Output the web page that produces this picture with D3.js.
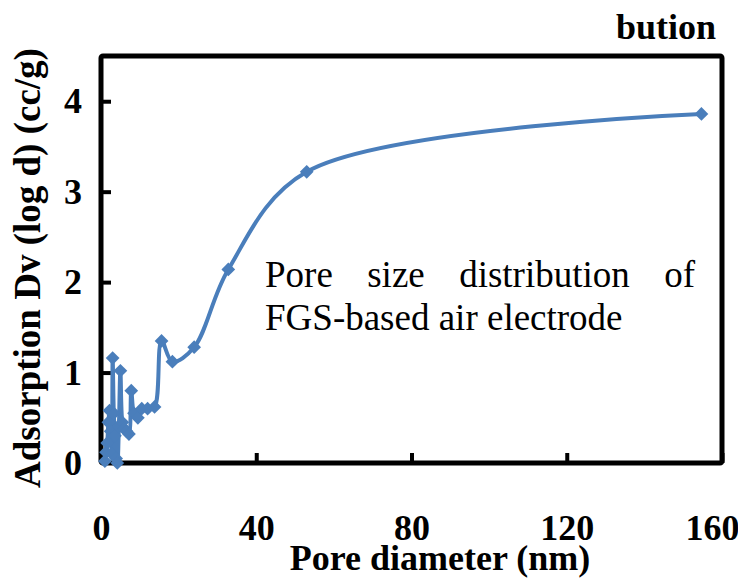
<!DOCTYPE html>
<html>
<head>
<meta charset="utf-8">
<script src="https://cdn.jsdelivr.net/npm/d3@7"></script>
<style>
  body { margin: 0; background: #fff; }
  svg text { font-family: "Liberation Serif", "Times New Roman", Times, serif; }
</style>
</head>
<body>
<svg id="chart" width="738" height="579"></svg>
<script>
// pore diameter (nm) and adsorption Dv (log d) (cc/g)
const diameters = [1.0, 1.3, 1.6, 1.9, 2.2, 2.5, 2.8, 3.0, 3.3, 3.6, 3.9, 4.2, 4.6, 5.0, 5.5, 6.0, 6.6, 7.2, 7.8, 8.5, 9.5, 10.5, 12.0, 13.8, 15.6, 18.4, 24.0, 32.8, 53.0, 154.7]
const dvValues = [0.02, 0.12, 0.22, 0.45, 0.58, 0.35, 0.10, 1.16, 0.55, 0.30, 0.05, 0.0, 0.40, 1.02, 0.45, 0.38, 0.35, 0.32, 0.80, 0.55, 0.50, 0.60, 0.60, 0.62, 1.35, 1.12, 1.28, 2.14, 3.22, 3.86]
const xTicks = [0, 40, 80, 120, 160]
const yTicks = [0, 1, 2, 3, 4]

const points = diameters.map((d, i) => ({ d: d, v: dvValues[i] }))

const serif = "'Liberation Serif', 'Times New Roman', Times, serif"
const margin = { top: 56, right: 16, bottom: 116, left: 101 }
const width = 738
const height = 579
const innerWidth = width - margin.left - margin.right
const innerHeight = height - margin.top - margin.bottom
const blue = "#4a7ebb"

const svg = d3.select("#chart")
const g = svg.append("g").attr("transform", `translate(${margin.left},${margin.top})`)

const x = d3.scaleLinear().domain([0, 160]).range([0, innerWidth])
const y = d3.scaleLinear().domain([0, 4.5]).range([innerHeight, 0])

// plot frame
g.append("rect")
  .attr("width", innerWidth)
  .attr("height", innerHeight)
  .attr("rx", 2)
  .attr("fill", "none")
  .attr("stroke", "#000")
  .attr("stroke-width", 5)

// axes with inward ticks
const xAxis = g.append("g")
  .attr("transform", `translate(0,${innerHeight})`)
  .call(d3.axisBottom(x).tickValues(xTicks).tickFormat(d3.format("d")).tickSize(-10).tickPadding(51))
const yAxis = g.append("g")
  .call(d3.axisLeft(y).tickValues(yTicks).tickFormat(d3.format("d")).tickSize(-10).tickPadding(19))

;[xAxis, yAxis].forEach((a) => {
  a.attr("font-family", null)
  a.select(".domain").remove()
  a.selectAll("line").attr("stroke", "#000").attr("stroke-width", 4)
  a.selectAll("text")
    .attr("fill", "#000")
    .style("font-family", serif)
    .style("font-size", "36px")
    .style("font-weight", "bold")
})
xAxis.selectAll(".tick").filter((d) => d == 0).select("line").remove()
xAxis.selectAll(".tick").filter((d) => d == 160).select("text").attr("dx", "-10")
yAxis.selectAll(".tick").filter((d) => d == 0).select("line").remove()

// smoothed series line
const valueline = d3.line()
  .x((d) => x(d.d))
  .y((d) => y(d.v))
  .curve(d3.curveCatmullRom.alpha(0.5))

g.append("path")
  .datum(points)
  .attr("d", valueline)
  .attr("fill", "none")
  .attr("stroke", blue)
  .attr("stroke-width", 4)
  .attr("stroke-linejoin", "round")

g.selectAll(".dot")
  .data(points)
  .enter()
  .append("path")
  .attr("class", "dot")
  .attr("transform", (d) => `translate(${x(d.d)},${y(d.v)})`)
  .attr("d", d3.symbol().type(d3.symbolDiamond2).size(120))
  .attr("fill", blue)

// annotation, first line justified
const noteLeft = 265
const noteRight = 695
const words = ["Pore", "size", "distribution", "of"]
const wordNodes = words.map((w) =>
  svg.append("text")
    .attr("y", 287)
    .style("font-family", serif)
    .style("font-size", "37px")
    .text(w))
const total = d3.sum(wordNodes, (n) => n.node().getComputedTextLength())
const gap = (noteRight - noteLeft - total) / (words.length - 1)
let cursor = noteLeft
wordNodes.forEach((n) => {
  n.attr("x", cursor)
  cursor += n.node().getComputedTextLength() + gap
})
svg.append("text")
  .attr("x", noteLeft)
  .attr("y", 330)
  .style("font-family", serif)
  .style("font-size", "37px")
  .text("FGS-based air electrode")

// clipped title and axis titles
svg.append("text")
  .attr("x", 716)
  .attr("y", 39)
  .attr("text-anchor", "end")
  .style("font-family", serif)
  .style("font-size", "36px")
  .style("font-weight", "bold")
  .text("bution")

svg.append("text")
  .attr("x", 440)
  .attr("y", 570)
  .attr("text-anchor", "middle")
  .style("font-family", serif)
  .style("font-size", "36px")
  .style("font-weight", "bold")
  .text("Pore diameter (nm)")

svg.append("text")
  .attr("transform", "translate(40,268) rotate(-90)")
  .attr("text-anchor", "middle")
  .style("font-family", serif)
  .style("font-size", "37px")
  .style("font-weight", "bold")
  .text("Adsorption Dv (log d) (cc/g)")
</script>
</body>
</html>
